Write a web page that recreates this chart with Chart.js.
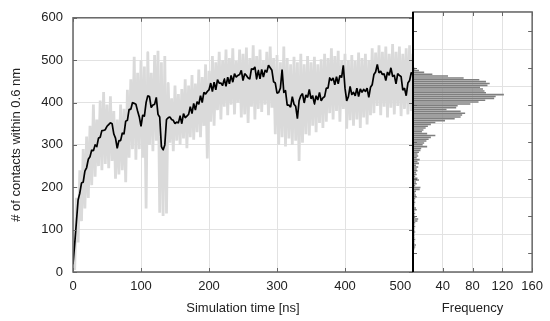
<!DOCTYPE html>
<html><head><meta charset="utf-8">
<script src="https://cdn.jsdelivr.net/npm/chart.js@4.4.1/dist/chart.umd.min.js"></script>
<style>
html,body{margin:0;padding:0;background:#fff;}
#wrap{position:relative;width:550px;height:321px;background:#fff;}
canvas{position:absolute;left:0;top:0;}
</style></head><body>
<div id="wrap"><canvas id="main" width="550" height="321"></canvas><canvas id="hist" width="550" height="321"></canvas></div>
<script>
// ---- data ----
const timeNs = [
0,2.5,5,7.5,10,12.5,15,17.5,20,22.5,25,27.5,30,32.5,35,37.5,40,42.5,45,47.5,
50,52.5,55,57.5,60,62.5,65,67.5,70,72.5,75,77.5,80,82.5,85,87.5,90,92.5,95,97.5,
100,102.5,105,107.5,110,112.5,115,117.5,120,122.5,125,127.5,130,132.5,135,137.5,140,142.5,145,147.5,
150,152.5,155,157.5,160,162.5,165,167.5,170,172.5,175,177.5,180,182.5,185,187.5,190,192.5,195,197.5,
200,202.5,205,207.5,210,212.5,215,217.5,220,222.5,225,227.5,230,232.5,235,237.5,240,242.5,245,247.5,
250,252.5,255,257.5,260,262.5,265,267.5,270,272.5,275,277.5,280,282.5,285,287.5,290,292.5,295,297.5,
300,302.5,305,307.5,310,312.5,315,317.5,320,322.5,325,327.5,330,332.5,335,337.5,340,342.5,345,347.5,
350,352.5,355,357.5,360,362.5,365,367.5,370,372.5,375,377.5,380,382.5,385,387.5,390,392.5,395,397.5,
400,402.5,405,407.5,410,412.5,415,417.5,420,422.5,425,427.5,430,432.5,435,437.5,440,442.5,445,447.5,
450,452.5,455,457.5,460,462.5,465,467.5,470,472.5,475,477.5,480,482.5,485,487.5,490,492.5,495,497.5,
500];

const smoothContacts = [
18,66,118,170,186,210,212,238,246,266,
272,288,286,300,296,316,318,334,334,336,
344,348,352,350,326,316,292,310,310,328,
326,356,358,384,384,400,398,396,380,366,
344,370,368,400,416,414,388,394,396,412,
372,366,296,288,300,360,364,366,360,358,
350,354,352,368,350,374,364,368,372,390,
374,398,382,402,396,416,400,424,420,426,
430,446,426,448,430,454,446,446,440,456,
438,460,444,464,448,468,460,464,466,476,
452,468,464,458,456,480,478,484,456,476,
456,478,460,476,472,488,482,476,449,446,
422,424,434,478,424,428,394,394,389,414,
396,391,362,404,416,421,399,418,412,431,
409,416,396,416,406,424,404,411,414,434,
434,458,452,458,442,461,444,464,459,488,
434,404,414,438,419,424,416,434,414,432,
424,431,426,434,412,436,442,466,472,490,
470,474,466,468,452,472,464,482,462,464,
444,468,464,461,429,434,416,446,452,471,
466];

const rawContacts = [
60,5,175,70,240,120,290,150,320,175,
345,205,395,225,360,250,405,240,425,255,
395,245,415,262,380,220,360,230,395,240,
385,212,430,270,455,290,508,265,470,290,
500,270,485,150,518,300,470,285,512,310,
522,140,495,132,510,138,445,305,410,285,
440,310,420,300,432,315,455,292,440,318,
465,312,445,330,478,318,460,345,490,268,
475,355,510,345,495,382,520,360,500,390,
525,370,505,395,528,372,498,400,525,365,
515,372,530,352,505,390,535,360,510,385,
525,378,500,395,520,370,532,388,505,325,
512,300,495,318,532,296,505,315,490,300,
508,310,495,262,515,305,490,325,510,322,
495,345,508,330,490,352,502,340,515,355,
505,375,528,360,510,380,522,355,500,385,
515,338,500,358,512,345,498,360,518,340,
505,365,515,348,500,370,528,375,518,392,
535,370,520,390,532,365,515,388,538,372,
520,392,532,368,515,385,528,372,535,380,
515];

const binCenters = [
2.5,7.5,12.5,17.5,22.5,27.5,32.5,37.5,42.5,47.5,
52.5,57.5,62.5,67.5,72.5,77.5,82.5,87.5,92.5,97.5,
102.5,107.5,112.5,117.5,122.5,127.5,132.5,137.5,142.5,147.5,
152.5,157.5,162.5,167.5,172.5,177.5,182.5,187.5,192.5,197.5,
202.5,207.5,212.5,217.5,222.5,227.5,232.5,237.5,242.5,247.5,
252.5,257.5,262.5,267.5,272.5,277.5,282.5,287.5,292.5,297.5,
302.5,307.5,312.5,317.5,322.5,327.5,332.5,337.5,342.5,347.5,
352.5,357.5,362.5,367.5,372.5,377.5,382.5,387.5,392.5,397.5,
402.5,407.5,412.5,417.5,422.5,427.5,432.5,437.5,442.5,447.5,
452.5,457.5,462.5,467.5,472.5,477.5,482.5,487.5,492.5,497.5];

const binCounts = [
1,1,2,3,4,2,2,3,2,2,
2,3,2,2,3,2,3,6,7,3,
2,3,2,5,4,2,2,3,2,3,
5,4,3,4,9,10,3,5,4,8,
6,3,5,4,6,5,7,4,8,6,
9,5,7,6,8,10,11,19,13,15,
18,21,24,30,19,12,14,17,20,24,
30,43,56,64,66,70,64,45,58,60,
77,88,97,109,111,122,98,96,94,90,
100,103,98,89,68,47,26,15,8,3];

const contactTicks = [0,100,200,300,400,500,600];
const timeTicks = [0,100,200,300,400,500];
const freqTicks = [0,40,80,120,160];

// ---- styling / layout ----
Chart.defaults.font.family = "'Liberation Sans', Arial, sans-serif";
Chart.defaults.font.size = 13;
Chart.defaults.color = '#222';
const GRID = '#e2e2e2';
const AREA = {left: 73, top: 12, bottom: 272, split: 413, right: 538};

const framePlugin = {
  id: 'frame',
  afterDatasetsDraw(chart, args, opts) {
    const {ctx, chartArea: a} = chart;
    const xs = chart.scales.x, ys = chart.scales.y;
    ctx.save();
    ctx.strokeStyle = opts.color;
    ctx.lineWidth = 1;
    ctx.beginPath();
    xs.ticks.forEach(t => {
      const px = Math.round(xs.getPixelForValue(t.value)) + 0.5;
      ctx.moveTo(px, a.bottom); ctx.lineTo(px, a.bottom - 4);
      ctx.moveTo(px, a.top); ctx.lineTo(px, a.top + 4);
    });
    ys.ticks.forEach(t => {
      const py = Math.round(ys.getPixelForValue(t.value)) + 0.5;
      ctx.moveTo(a.left, py); ctx.lineTo(a.left + 4, py);
      ctx.moveTo(a.right, py); ctx.lineTo(a.right - 4, py);
    });
    ctx.stroke();
    ctx.lineWidth = 1.5;
    ctx.strokeRect(a.left, a.top, a.right - a.left, a.bottom - a.top);
    if (opts.splitLine) {
      ctx.strokeStyle = '#000';
      ctx.lineWidth = 2;
      ctx.beginPath();
      ctx.moveTo(a.left, a.top); ctx.lineTo(a.left, a.bottom);
      ctx.stroke();
    }
    ctx.restore();
  }
};

const toPoints = (xs, ys) => xs.map((x, i) => ({x, y: ys[i]}));

new Chart(document.getElementById('main'), {
  type: 'line',
  data: {
    datasets: [
      {data: toPoints(timeNs, smoothContacts), borderColor: '#000', borderWidth: 1.7, borderJoinStyle: 'bevel', pointRadius: 0, tension: 0.001},
      {data: toPoints(timeNs, rawContacts), borderColor: '#dadada', borderWidth: 2.8, borderJoinStyle: 'bevel', pointRadius: 0, tension: 0.001}
    ]
  },
  options: {
    responsive: false, animation: false, devicePixelRatio: 1,
    layout: {padding: {left: 0, top: AREA.top, right: 550 - AREA.split, bottom: 0}},
    plugins: {legend: {display: false}, tooltip: {enabled: false}, frame: {color: '#666'}},
    scales: {
      x: {
        type: 'linear', min: 0, max: 500,
        afterBuildTicks: s => { s.ticks = timeTicks.map(v => ({value: v})); },
        afterFit: s => { s.height = 321 - AREA.bottom; },
        grid: {color: GRID, drawTicks: false},
        border: {display: false},
        ticks: {padding: 7, maxRotation: 0, callback: v => v === 500 ? '500       ' : String(v)},
        title: {display: true, text: 'Simulation time [ns]', padding: {top: 0, bottom: 5}}
      },
      y: {
        type: 'linear', min: 0, max: 600,
        afterBuildTicks: s => { s.ticks = contactTicks.map(v => ({value: v})); },
        afterFit: s => { s.width = AREA.left; },
        grid: {color: GRID, drawTicks: false},
        border: {display: false},
        ticks: {padding: 10},
        title: {display: true, text: '# of contacts within 0.6 nm', padding: {top: 9, bottom: 0}}
      }
    }
  },
  plugins: [framePlugin]
});

new Chart(document.getElementById('hist'), {
  type: 'bar',
  data: {
    datasets: [{
      data: toPoints(binCounts, binCenters),
      backgroundColor: '#7f7f7f', borderWidth: 0,
      barPercentage: 0.86, categoryPercentage: 1
    }]
  },
  options: {
    indexAxis: 'y',
    responsive: false, animation: false, devicePixelRatio: 1,
    layout: {padding: {left: AREA.split, top: AREA.top, right: 550 - AREA.right, bottom: 0}},
    plugins: {legend: {display: false}, tooltip: {enabled: false}, frame: {color: '#666', splitLine: true}},
    scales: {
      x: {
        type: 'linear', min: 0, max: 160,
        afterBuildTicks: s => { s.ticks = freqTicks.map(v => ({value: v})); },
        afterFit: s => { s.height = 321 - AREA.bottom; },
        grid: {color: GRID, drawTicks: false},
        border: {display: false},
        ticks: {padding: 7, maxRotation: 0, callback: v => v === 0 ? '' : String(v)},
        title: {display: true, text: 'Frequency', padding: {top: 0, bottom: 5}}
      },
      y: {
        type: 'linear', min: 0, max: 600,
        afterBuildTicks: s => { s.ticks = contactTicks.map(v => ({value: v})); },
        afterFit: s => { s.width = 0; },
        grid: {color: GRID, drawTicks: false},
        border: {display: false},
        ticks: {display: false}
      }
    }
  },
  plugins: [framePlugin]
});
</script>
</body></html>
